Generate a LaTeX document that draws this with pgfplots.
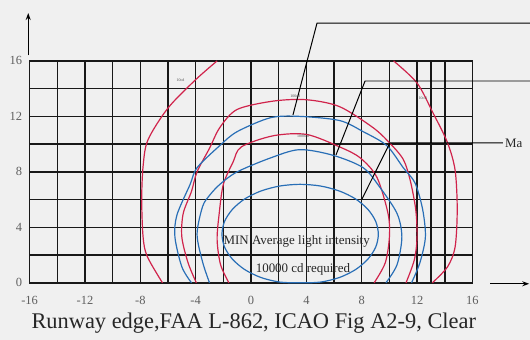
\documentclass[border=0pt]{standalone}
\usepackage{fontspec}
\setmainfont{Liberation Serif}
\usepackage{pgfplots}
\pgfplotsset{compat=1.18}
\usetikzlibrary{backgrounds,arrows.meta}
\definecolor{bgc}{RGB}{240,240,240}
\definecolor{cred}{RGB}{208,35,75}
\definecolor{cblue}{RGB}{40,110,182}
\definecolor{tickc}{RGB}{95,95,95}
\definecolor{gridc}{RGB}{25,25,25}
\begin{document}
\begin{tikzpicture}
\begin{axis}[
  scale only axis, width=443bp, height=222bp,
  xmin=-16, xmax=16, ymin=0, ymax=16,
  xtick={-16,-12,-8,-4,0,4,8,12,16}, ytick={0,4,8,12,16},
  minor xtick={-14,-10,-6,-2,2,6,10,13,14},
  minor ytick={2,6,10,14},
  grid=both,
  grid style={gridc, line width=1.5pt},
  major grid style={gridc, line width=1.5pt},
  minor grid style={gridc, line width=1.5pt},
  major tick length=0pt, minor tick length=0pt,
  axis line style={gridc, line width=1.5pt},
  tick label style={font=\fontsize{12.5}{12.5}\selectfont, text=tickc},
  /pgf/number format/assume math mode=true,
  xticklabel style={yshift=-10bp},
  yticklabel style={xshift=-4bp},
  clip=false,
]
% outer red contour (two branches)
\addplot[cred, line width=1.2pt, smooth] coordinates {
 (-2.45,16) (-4.05,14.6) (-6.0,12.6) (-7.45,10.3) (-7.8,8.4) (-7.9,6.0) (-7.8,3.3) (-7.5,1.9) (-6.4,0)};
\addplot[cred, line width=1.2pt, smooth] coordinates {
 (10.3,16) (12.0,14.4) (13.15,12.25) (14.2,10.1) (14.75,8.1) (14.9,5.3) (14.75,2.6) (14.2,1.15) (13.1,0)};
% red 3
\addplot[cred, line width=1.2pt, smooth] coordinates {
 (-3.95,0) (-4.55,1.44) (-5.0,3.3) (-4.9,5.0) (-4.3,6.6) (-3.9,8.0) (-3.0,9.7) (-2.25,11.2) (-1.0,12.5) (1.6,13.1) (4.0,13.2) (6.4,12.7) (8.8,11.2) (10.0,10.1) (11.0,8.9) (11.5,7.4) (11.9,5.3) (12.0,3.3) (11.8,1.65) (11.2,0)};
% blue 3
\addplot[cblue, line width=1.2pt, smooth] coordinates {
 (-4.3,0) (-5.0,1.15) (-5.5,3.3) (-5.35,4.9) (-4.4,7.1) (-3.9,8.3) (-2.25,9.9) (-1.0,10.9) (1.4,11.9) (3.5,12.0) (6.4,11.7) (8.1,10.9) (9.8,9.9) (11.0,8.3) (11.85,7.2) (12.4,5.3) (12.6,3.3) (12.2,1.44) (11.6,0)};
% red 2
\addplot[cred, line width=1.2pt, smooth] coordinates {
 (-1.6,0) (-2.2,1.3) (-2.45,3.1) (-2.3,5.0) (-2.0,7.1) (-1.3,8.7) (-0.7,9.8) (1.6,10.6) (4.0,10.7) (6.4,9.8) (7.9,9.0) (9.1,7.6) (9.9,5.0) (10.0,3.3) (9.7,1.44) (8.9,0)};
% blue 2
\addplot[cblue, line width=1.2pt, smooth] coordinates {
 (-3.0,0) (-3.5,1.5) (-3.9,3.5) (-3.5,5.5) (-3.0,6.3) (-2.25,7.1) (-1.0,8.0) (1.4,9.0) (3.5,9.6) (5.9,9.2) (8.1,8.3) (9.3,6.9) (10.55,5.0) (10.9,3.3) (10.55,1.3) (9.75,0)};
% inner blue ellipse
\addplot[cblue, line width=1.2pt, smooth cycle] coordinates {
 (9.2,3.5) (9.01,4.43) (8.44,5.3) (7.55,6.05) (6.38,6.62) (5.01,6.98) (3.55,7.1) (2.09,6.98) (0.72,6.62) (-0.45,6.05) (-1.34,5.3) (-1.91,4.43) (-2.1,3.5) (-1.91,2.57) (-1.34,1.7) (-0.45,0.95) (0.72,0.38) (2.09,0.05) (3.55,0.0) (5.01,0.05) (6.38,0.38) (7.55,0.95) (8.44,1.7) (9.01,2.57)};
% leader lines
\addplot[black, line width=1pt] coordinates {(3.03,12.1) (4.77,18.73) (20.2,18.73)};
\addplot[black, line width=1pt] coordinates {(6.14,9.22) (8.24,14.55) (20.2,14.55)};
\addplot[black, line width=1pt] coordinates {(8.02,6.05) (10.04,10.09) (18.2,10.09)};
% axis arrows
\addplot[black, line width=1pt, -{Stealth[length=7bp,width=5bp]}] coordinates {(-16.1,16.4) (-16.1,19.45)};
\addplot[black, line width=1pt, -{Stealth[length=7bp,width=5bp]}] coordinates {(17.27,-0.07) (20.1,-0.07)};
% texts
\node[anchor=west, inner sep=0pt, font=\fontsize{13}{13}\selectfont, text=black!85] at (axis cs:18.35,10.09) {Ma};
\node[font=\fontsize{13}{13}\selectfont, text=black!85, inner sep=0pt] at (axis cs:3.3,2.95) {MIN Average light intensity};
\node[font=\fontsize{13}{13}\selectfont, text=black!85, inner sep=0pt] at (axis cs:3.75,0.94) {10000 cd required};
\node[font=\fontsize{4}{4}\selectfont, text=black!70, inner sep=0pt] at (axis cs:-5.1,14.6) {10cd};
\node[font=\fontsize{4}{4}\selectfont, text=black!70, inner sep=0pt] at (axis cs:3.2,13.45) {100cd};
\node[font=\fontsize{4}{4}\selectfont, text=black!70, inner sep=0pt] at (axis cs:3.75,10.55) {1000cd};
\node[font=\fontsize{4}{4}\selectfont, text=black!70, inner sep=0pt] at (axis cs:12.4,13.3) {10cd};
\node[font=\fontsize{22.5}{22.5}\selectfont, text=black!85, inner sep=0pt] at (axis cs:0.2,-2.9) {Runway edge,FAA L-862, ICAO Fig A2-9, Clear};
\coordinate (bbll) at (axis cs:-18.14,-4.11);
\coordinate (bbur) at (axis cs:20.16,20.39);
\end{axis}
\begin{scope}[on background layer]
\fill[bgc] (bbll) rectangle (bbur);
\end{scope}
\pgfresetboundingbox
\useasboundingbox (bbll) rectangle (bbur);
\end{tikzpicture}
\end{document}
